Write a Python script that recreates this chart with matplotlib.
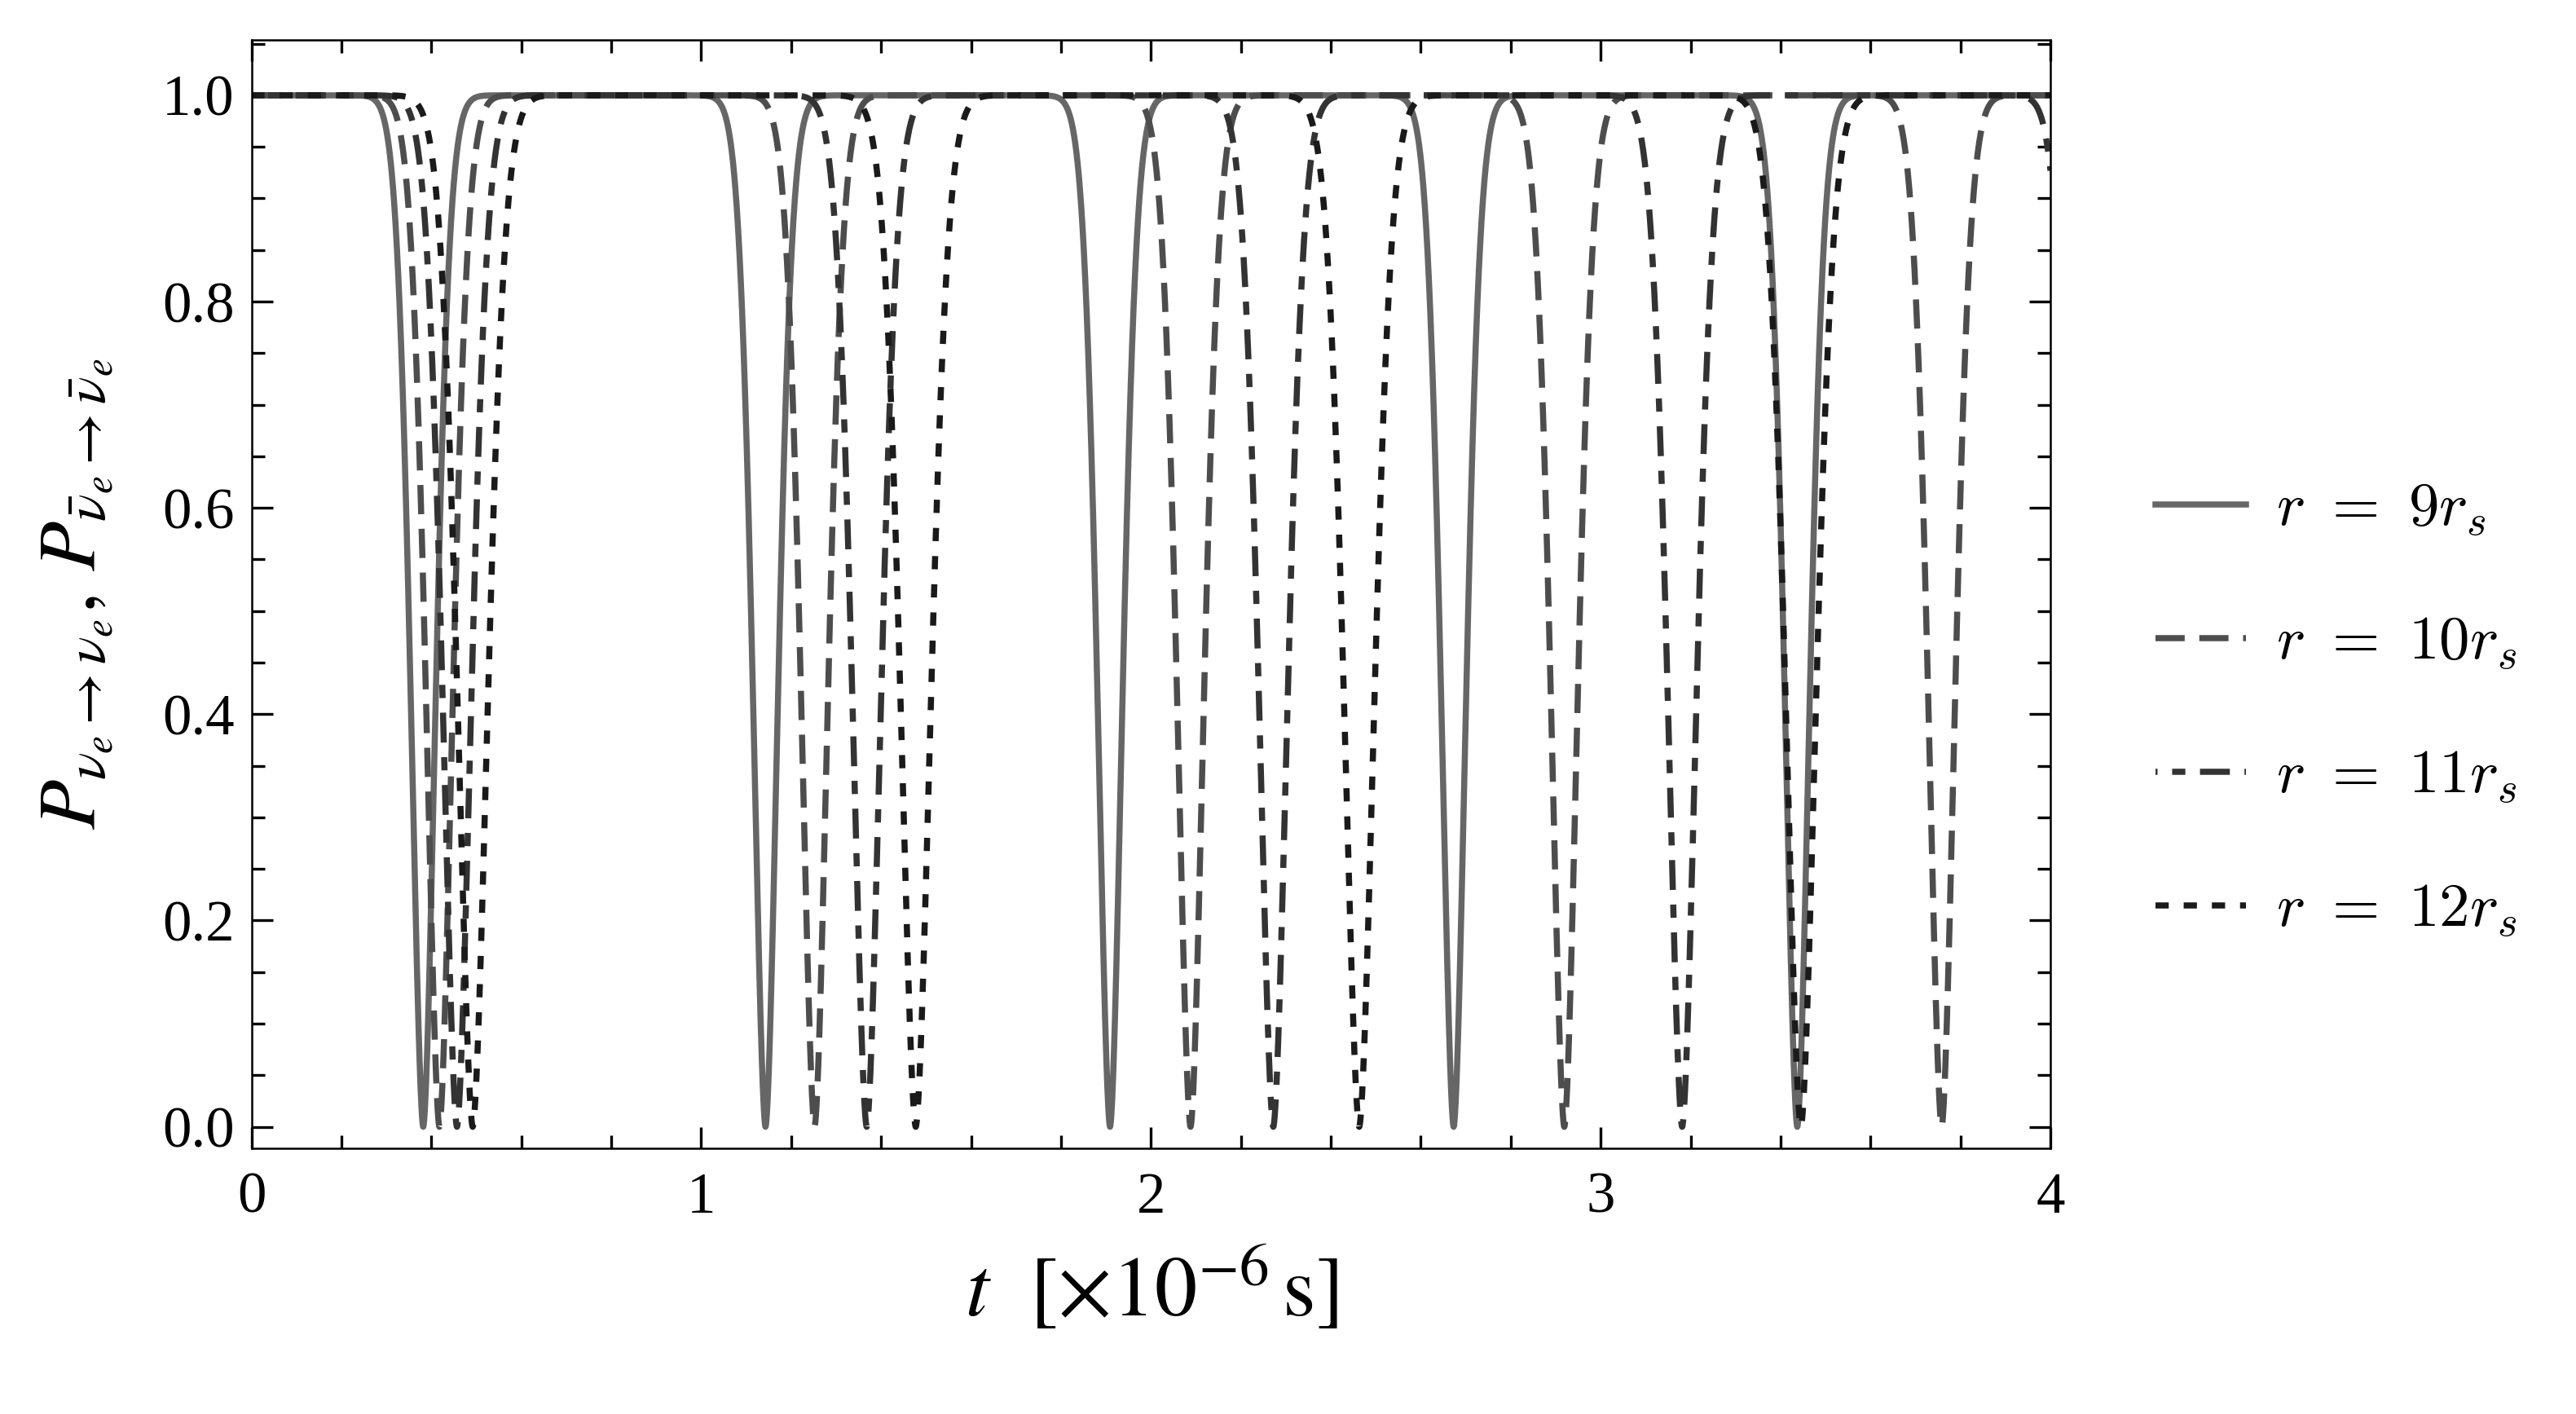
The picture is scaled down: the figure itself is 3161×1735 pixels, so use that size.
import numpy as np
import matplotlib
matplotlib.use('Agg')
import matplotlib.pyplot as plt
from matplotlib.font_manager import FontProperties
from matplotlib.ticker import MultipleLocator

# dip centres (t in 1e-6 s), one list per radius
labels = [r'$r\ =\ 9r_s$', r'$r\ =\ 10r_s$', r'$r\ =\ 11r_s$', r'$r\ =\ 12r_s$']
dips_r9 = [0.382, 1.143, 1.909, 2.673, 3.437, 4.205]
dips_r10 = [0.418, 1.252, 2.088, 2.919, 3.758, 4.595]
dips_r11 = [0.457, 1.368, 2.272, 3.181, 4.081]
dips_r12 = [0.492, 1.477, 2.463, 3.445, 4.432]
dip_width = [0.040, 0.043, 0.046, 0.049]
dip_power = 1.7

colors = ['#666666', '#4d4d4d', '#333333', '#1a1a1a']
styles = ['-',
          (0, (8.6, 4.3)),
          (8.2, (8.8, 4.3, 3.9, 4.3)),
          (0, (3.9, 4.4))]

plt.rcParams['font.family'] = ['Liberation Serif', 'DejaVu Serif']
plt.rcParams['mathtext.fontset'] = 'stix'
plt.rcParams['lines.scale_dashes'] = False


def survival(t, centres, w):
    p = np.ones_like(t)
    for c in centres:
        p *= 1.0 - np.exp(-np.abs((t - c) / w) ** dip_power)
    return p


t = np.linspace(0, 4, 8001)
fig = plt.figure(figsize=(3161 / 300, 1735 / 300), dpi=300)
ax = fig.add_axes([0.0976, 0.188, 0.6984, 0.784])

for k, centres in enumerate([dips_r9, dips_r10, dips_r11, dips_r12]):
    ax.plot(t, survival(t, centres, dip_width[k]), color=colors[k],
            ls=styles[k], lw=1.8, label=labels[k], dash_capstyle='butt')

ax.set_xlim(0, 4)
ax.set_ylim(-0.0207, 1.054)
ax.xaxis.set_major_locator(MultipleLocator(1))
ax.xaxis.set_minor_locator(MultipleLocator(0.2))
ax.yaxis.set_major_locator(MultipleLocator(0.2))
ax.yaxis.set_minor_locator(MultipleLocator(0.05))
ax.yaxis.set_major_formatter(plt.FuncFormatter(lambda v, _: '%.1f' % v))
ax.tick_params(which='both', direction='in', top=True, right=True, labelsize=17)
ax.tick_params(which='major', length=6.2, width=0.8)
ax.tick_params(which='minor', length=3.8, width=0.8)
ax.tick_params(axis='x', pad=7)
ax.tick_params(axis='y', pad=5)
for sp in ax.spines.values():
    sp.set_linewidth(0.6)

ax.set_xlabel(r'$t\ \ \left[\times10^{-6}\,\mathrm{s}\right]$', fontsize=25, labelpad=6)
ax.set_ylabel(r'$P_{\nu_e\rightarrow\nu_e},\,P_{\bar{\nu}_e\rightarrow\bar{\nu}_e}$',
              fontsize=24, labelpad=14)

leg = ax.legend(loc='center left', bbox_to_anchor=(0.8367, 0.497),
                bbox_transform=fig.transFigure, frameon=False,
                prop=FontProperties(size=18, math_fontfamily='cm'),
                handlelength=1.48, handletextpad=0.5, labelspacing=1.27,
                borderpad=0, borderaxespad=0)

fig.savefig('out.png', dpi=300)
